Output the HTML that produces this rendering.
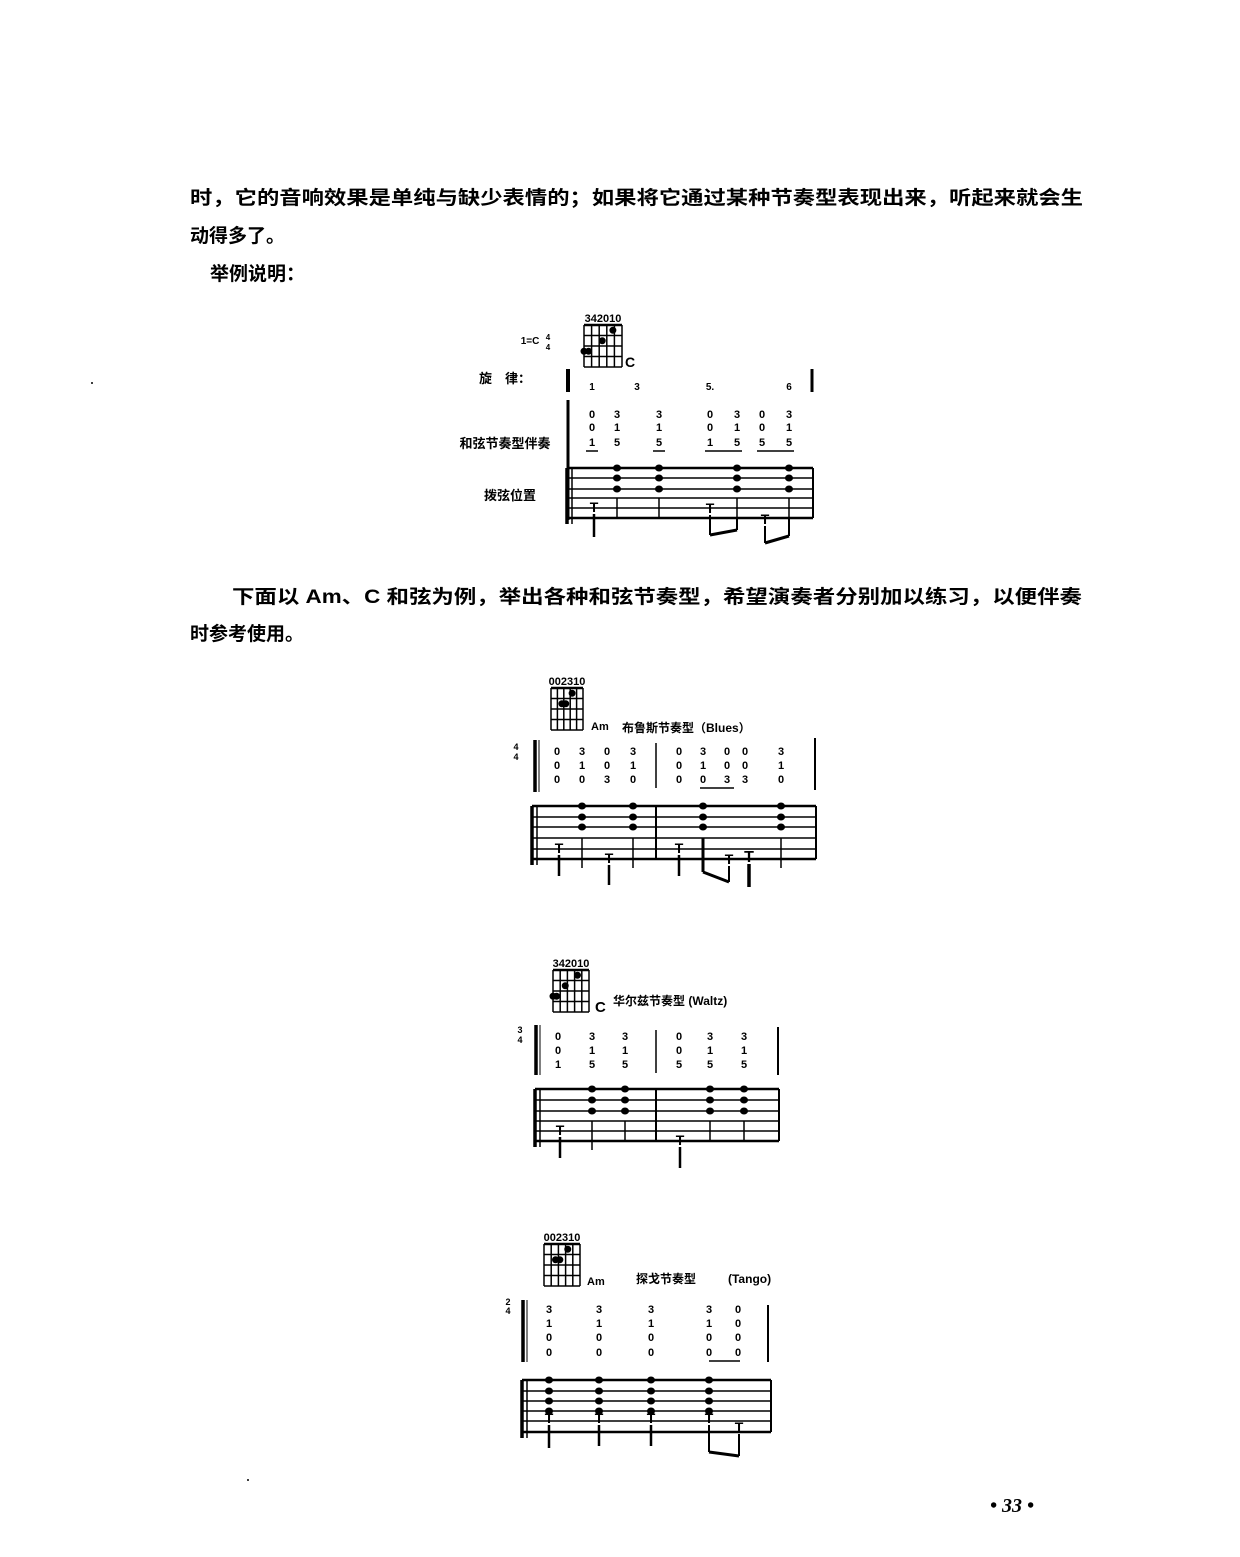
<!DOCTYPE html>
<html><head><meta charset="utf-8">
<style>
html,body{margin:0;padding:0;background:#fff;}
body{width:1240px;height:1557px;overflow:hidden;position:relative;}
svg{position:absolute;left:0;top:0;}
</style></head>
<body>
<svg id="s" width="1240" height="1557" xmlns="http://www.w3.org/2000/svg" font-family="'Liberation Serif','Noto Serif CJK SC',serif">
<g font-family="'Liberation Sans','Noto Sans CJK SC',sans-serif" font-weight="bold" font-size="19" fill="#000">
<text x="190" y="204" textLength="893" lengthAdjust="spacingAndGlyphs">时，它的音响效果是单纯与缺少表情的；如果将它通过某种节奏型表现出来，听起来就会生</text>
<text x="190" y="242">动得多了。</text>
<text x="210" y="280">举例说明：</text>
<text x="232" y="603" textLength="850" lengthAdjust="spacingAndGlyphs">下面以 Am、C 和弦为例，举出各种和弦节奏型，希望演奏者分别加以练习，以便伴奏</text>
<text x="190" y="640">时参考使用。</text>
</g>
<text x="990" y="1512" font-size="20" font-weight="bold" font-style="italic">• 33 •</text>
<circle cx="92" cy="383" r="1" fill="#000"/>
<circle cx="248" cy="1480" r="1" fill="#000"/>
<g id="g" stroke="#000" fill="#000"></g>
</svg>
<script>
const g=document.getElementById('g');let h='';
function L(x1,y1,x2,y2,w){h+=`<line x1="${x1}" y1="${y1}" x2="${x2}" y2="${y2}" stroke-width="${w||1.5}"/>`;}
function T(x,y,t,s,a){h+=`<text x="${x}" y="${y}" font-size="${s||11}" font-weight="bold" stroke="none" text-anchor="${a||'middle'}" font-family="'Liberation Sans','Noto Sans CJK SC',sans-serif">${t}</text>`;}
function grid(x,y,w,hh,top,dots){for(let i=0;i<6;i++)L(x+i*w/5,y,x+i*w/5,y+hh,1.5);for(let j=0;j<=4;j++)L(x,y+j*hh/4,x+w,y+j*hh/4,1.5);L(x,y,x+w,y,2.5);T(x+w/2,y-3,top,11);dots.forEach(d=>h+=`<circle cx="${x+d[0]*w/5}" cy="${y+(d[1]-0.5)*hh/4}" r="3"/>`);}
function tab(x1,x2,ys){ys.forEach((y,i)=>L(x1,y,x2,y,(i==0||i==5)?2.5:1.5));L(x1,ys[0],x1,ys[5]+6,3.5);L(x1+5,ys[0],x1+5,ys[5]+6,1.5);L(x2,ys[0],x2,ys[5],2);}
function col(x,ys,ts){ys.forEach((y,i)=>T(x,y,ts[i],11));}
function tnote(x,y,y2){T(x,y,'T',14);L(x,y+2,x,y2,2.5);}
function stk(x,ys){ys.forEach(y=>h+=`<ellipse cx="${x}" cy="${y}" rx="3.5" ry="3"/>`);}

// Diagram 1
T(530,344,'1=C',10);T(548,340,'4',8);T(548,350,'4',8);
grid(584,325,38,42,'342010',[[0,3],[0.6,3],[2.4,2],[3.8,1]]);
T(625,367,'C',14,'start');
T(505,383,'旋　律：',13);T(505,448,'和弦节奏型伴奏',13);T(510,500,'拨弦位置',13);
L(568,369,568,392,4);L(568,400,568,520,3);
L(812,369,812,392,3);
[[592,'1'],[637,'3'],[710,'5.'],[789,'6']].forEach(a=>T(a[0],390,a[1],10));
const c1=[[592,'0','0','1'],[617,'3','1','5'],[659,'3','1','5'],[710,'0','0','1'],[737,'3','1','5'],[762,'0','0','5'],[789,'3','1','5']];
c1.forEach(c=>col(c[0],[418,431,446],[c[1],c[2],c[3]]));
L(586,451,598,451,1.5);L(653,451,665,451,1.5);L(705,451,742,451,1.5);L(757,451,794,451,1.5);
tab(567,813,[468,478,489,498,508,518]);
[617,659,737,789].forEach(x=>stk(x,[468,478,489]));
L(617,498,617,518,1.5);L(659,498,659,518,1.5);L(737,498,737,518,1.5);L(789,498,789,518,1.5);
tnote(594,512,537);T(710,513,'T',14);L(710,515,710,535,2);L(737,518,737,530,2);L(710,535,737,530,3);
T(765,524,'T',14);L(765,526,765,543,2);L(789,518,789,536,2);L(765,543,789,536,3);

// Diagram 2 Blues
grid(551,688,32,42,'002310',[[1.7,2],[2.3,2],[3.3,1]]);
T(591,730,'Am',11,'start');T(622,732,'布鲁斯节奏型（Blues）',12,'start');
T(516,750,'4',9);T(516,760,'4',9);
L(535,740,535,792,3.5);L(539,740,539,792,1);L(815,738,815,790,2);L(656,743,656,788,1.5);
[[557,'0','0','0'],[582,'3','1','0'],[607,'0','0','3'],[633,'3','1','0'],[679,'0','0','0'],[703,'3','1','0'],[727,'0','0','3'],[745,'0','0','3'],[781,'3','1','0']].forEach(c=>col(c[0],[755,769,783],[c[1],c[2],c[3]]));
L(700,788,734,788,1.5);
tab(532,816,[806,817,827,838,849,859]);
[582,633,703,781].forEach(x=>stk(x,[806,817,827]));
L(656,806,656,859,2);
[582,633,781].forEach(x=>L(x,838,x,868,1.5));
tnote(559,853,876);tnote(609,863,885);tnote(679,853,876);
L(703,838,703,872,3);T(729,864,'T',14);L(729,866,729,882,2);L(703,872,729,882,3);
T(749,862,'T',16);L(749,864,749,887,3.5);

// Diagram 3 Waltz
grid(553,970,36,42,'342010',[[0,3],[0.5,3],[1.7,2],[3.4,1]]);
T(595,1012,'C',15,'start');T(613,1005,'华尔兹节奏型 (Waltz)',12,'start');
T(520,1033,'3',9);T(520,1043,'4',9);
L(536,1025,536,1075,3.5);L(540,1025,540,1075,1);L(778,1027,778,1075,2);L(656,1030,656,1073,1.5);
[[558,'0','0','1'],[592,'3','1','5'],[625,'3','1','5'],[679,'0','0','5'],[710,'3','1','5'],[744,'3','1','5']].forEach(c=>col(c[0],[1040,1054,1068],[c[1],c[2],c[3]]));
tab(535,779,[1089,1100,1111,1121,1131,1141]);
[592,625,710,744].forEach(x=>stk(x,[1089,1100,1111]));
L(656,1089,656,1141,2);
L(592,1121,592,1150,1.5);[625,710,744].forEach(x=>L(x,1121,x,1141,1.5));
tnote(560,1135,1158);tnote(680,1145,1168);

// Diagram 4 Tango
grid(544,1244,36,42,'002310',[[1.6,2],[2.2,2],[3.3,1]]);
T(587,1285,'Am',11,'start');T(636,1283,'探戈节奏型',12,'start');T(728,1283,'(Tango)',12,'start');
T(508,1305,'2',9);T(508,1314,'4',9);
L(523,1300,523,1362,3.5);L(527,1300,527,1362,1);L(768,1305,768,1362,2);
[[549,'3','1','0','0'],[599,'3','1','0','0'],[651,'3','1','0','0'],[709,'3','1','0','0'],[738,'0','0','0','0']].forEach(c=>col(c[0],[1313,1327,1341,1356],[c[1],c[2],c[3],c[4]]));
L(709,1361,740,1361,1.5);
tab(522,771,[1380,1391,1401,1411,1421,1432]);
[549,599,651,709].forEach(x=>stk(x,[1380,1391,1401,1411]));
tnote(549,1423,1448);tnote(599,1423,1446);tnote(651,1423,1446);
T(709,1423,'T',14);L(709,1425,709,1452,2);T(739,1432,'T',14);L(739,1434,739,1456,2);L(709,1452,739,1456,3);

g.innerHTML=h;
</script>
</body></html>
